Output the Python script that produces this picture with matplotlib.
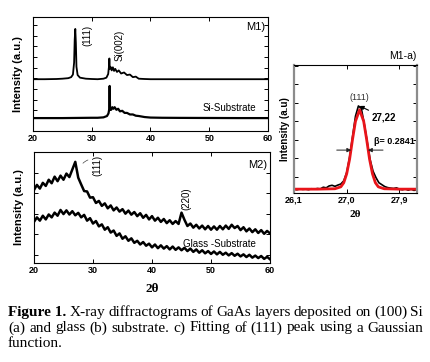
import numpy as np
import matplotlib
matplotlib.use("Agg")
import matplotlib.pyplot as plt

plt.rcParams['font.family'] = ['Liberation Sans', 'DejaVu Sans']

# --- M1 : GaAs on Si (upper) and bare Si substrate (lower) ---
m1_x = [20, 22, 24, 25, 26, 26.5, 26.8, 27.0, 27.1, 27.2, 27.3, 27.4, 27.6, 28.0,
        29, 30, 31, 32, 32.5, 32.8, 32.95, 33.0, 33.08, 33.2, 33.4, 33.6, 33.8,
        34.0, 34.3, 34.6, 35, 35.5, 36, 36.5, 37, 37.5, 38, 39, 40, 45, 50, 55, 60]
m1_y = [5.0, 5.0, 5.02, 5.05, 5.1, 5.2, 5.45, 6.6, 8.8, 9.85, 8.5, 6.2, 5.4, 5.15,
        5.05, 5.02, 5.0, 5.05, 5.15, 5.5, 6.3, 7.0, 6.0, 6.2, 5.85, 6.15, 5.8,
        6.0, 5.7, 5.85, 5.55, 5.65, 5.4, 5.45, 5.2, 5.25, 5.05, 5.02, 5.0, 5.0,
        5.0, 5.0, 5.0]

si_x = [20, 25, 30, 31, 32, 32.6, 32.85, 32.98, 33.05, 33.12, 33.3, 33.5, 33.7,
        33.9, 34.2, 34.5, 34.8, 35.2, 35.6, 36, 36.5, 37, 37.5, 38, 39, 40, 42,
        45, 50, 55, 60]
si_y = [1.25, 1.25, 1.28, 1.28, 1.32, 1.45, 1.7, 2.1, 4.35, 2.05, 2.05, 2.3, 2.15,
        2.3, 2.05, 2.15, 1.9, 1.95, 1.75, 1.75, 1.6, 1.6, 1.48, 1.45, 1.35, 1.3,
        1.28, 1.27, 1.26, 1.25, 1.25]

# --- M2 : GaAs on glass (upper) and glass substrate (lower), step 0.5 deg ---
m2_x = np.arange(20, 60.01, 0.5)
m2_y = [3.55, 3.80, 3.62, 3.90, 3.75, 4.05, 3.88, 4.20, 3.98, 4.25, 4.05, 4.35,
        4.18, 4.55, 4.92, 4.15, 3.82, 3.50, 3.48, 3.18, 3.20, 2.92, 3.02, 2.78,
        2.90, 2.66, 2.80, 2.56, 2.70, 2.50, 2.62, 2.40, 2.55, 2.35, 2.48, 2.28,
        2.42, 2.20, 2.34, 2.12, 2.28, 2.06, 2.20, 2.00, 2.14, 1.94, 2.08, 1.90,
        2.04, 1.90, 2.45, 2.10, 1.80, 1.92, 1.72, 1.86, 1.68, 1.82, 1.64, 1.80,
        1.62, 1.78, 1.62, 1.80, 1.64, 1.82, 1.66, 1.86, 1.70, 1.80, 1.60, 1.74,
        1.54, 1.68, 1.50, 1.64, 1.46, 1.60, 1.42, 1.56, 1.44]
glass_y = [2.00, 2.22, 2.06, 2.30, 2.12, 2.36, 2.22, 2.45, 2.30, 2.58, 2.38, 2.56,
           2.36, 2.52, 2.32, 2.44, 2.22, 2.34, 2.06, 2.18, 1.92, 2.04, 1.78, 1.88,
           1.62, 1.74, 1.48, 1.58, 1.32, 1.44, 1.18, 1.30, 1.08, 1.20, 0.98, 1.08,
           0.90, 1.02, 0.84, 0.94, 0.76, 0.90, 0.72, 0.86, 0.70, 0.82, 0.66, 0.80,
           0.64, 0.76, 0.62, 0.74, 0.58, 0.70, 0.54, 0.66, 0.50, 0.62, 0.47, 0.58,
           0.44, 0.56, 0.42, 0.54, 0.40, 0.50, 0.37, 0.48, 0.35, 0.45, 0.32, 0.42,
           0.29, 0.40, 0.26, 0.36, 0.24, 0.34, 0.20, 0.30, 0.18]

# --- M1-a : zoom on the (111) peak, measured data and Gaussian fit ---
peak_x = [26.10, 26.15, 26.20, 26.25, 26.30, 26.35, 26.40, 26.45, 26.50, 26.55,
          26.60, 26.65, 26.70, 26.75, 26.80, 26.85, 26.90, 26.95, 27.00, 27.05,
          27.10, 27.15, 27.20, 27.25, 27.30, 27.35, 27.40, 27.45, 27.50, 27.55,
          27.60, 27.65, 27.70, 27.75, 27.80, 27.85, 27.90, 27.95, 28.00, 28.05,
          28.10, 28.15, 28.20]
peak_y = [0.030, 0.025, 0.032, 0.028, 0.030, 0.026, 0.033, 0.030, 0.035, 0.032,
          0.045, 0.040, 0.055, 0.060, 0.052, 0.062, 0.070, 0.095, 0.160, 0.280,
          0.440, 0.600, 0.680, 0.660, 0.540, 0.400, 0.260, 0.170, 0.120, 0.080,
          0.065, 0.050, 0.042, 0.038, 0.035, 0.040, 0.030, 0.025, 0.032, 0.022,
          0.030, 0.020, 0.028]
fit_x = [26.1, 26.5, 26.8, 26.9, 26.95, 27.0, 27.05, 27.1, 27.15, 27.22, 27.29,
         27.34, 27.39, 27.44, 27.49, 27.54, 27.64, 27.9, 28.2]
fit_y = [0.03, 0.03, 0.033, 0.048, 0.08, 0.15, 0.265, 0.42, 0.56, 0.65, 0.56,
         0.42, 0.265, 0.15, 0.08, 0.048, 0.033, 0.03, 0.03]
peak_pos = 27.22
fwhm = 0.2841

caption = [
    ('Figure 1.', 'X-ray diffractograms of GaAs layers deposited on (100) Si'),
    ('', '(a) and glass (b) substrate. c) Fitting of (111) peak using a Gaussian'),
    ('', 'function.'),
]

fig = plt.figure(figsize=(4.3, 3.62), dpi=100)
serif = ['Liberation Serif', 'DejaVu Serif']

tick_kw = dict(direction='in', length=3, width=0.7, top=True, right=True,
               labelsize=6.5, pad=2)

# top left panel
ax1 = fig.add_axes([0.0767, 0.638, 0.5465, 0.315])
ax1.plot(m1_x, m1_y, color='black', lw=1.3)
ax1.plot(si_x, si_y, color='black', lw=1.6)
ax1.set_xlim(20, 60)
ax1.set_ylim(0, 11)
ax1.set_xticks([20, 30, 40, 50, 60])
ax1.set_yticks(np.arange(2, 11, 1.03))
ax1.tick_params(labelleft=False, **tick_kw)
for lab in ax1.get_xticklabels():
    lab.set_fontweight('bold')
ax1.set_ylabel('Intensity (a.u.)', fontsize=8, fontweight='bold', labelpad=7)
ax1.text(29.2, 9.27, '(111)', rotation=90, fontsize=7, ha='center', va='center')
ax1.text(34.8, 8.3, 'Si(002)', rotation=90, fontsize=7, ha='center', va='center')
ax1.text(59.6, 10.0, 'M1)', fontsize=8, ha='right', va='center')
ax1.text(53.5, 2.2, 'Si-Substrate', fontsize=7, ha='center', va='center')

# bottom left panel
ax2 = fig.add_axes([0.079, 0.2735, 0.549, 0.3066])
ax2.plot(m2_x, m2_y, color='black', lw=1.8)
ax2.plot(m2_x, glass_y, color='black', lw=1.8)
ax2.set_xlim(20, 60)
ax2.set_ylim(0, 5.4)
ax2.set_xticks([20, 30, 40, 50, 60])
ax2.set_yticks([0.4, 1.4, 2.4, 3.4, 4.4])
ax2.tick_params(labelleft=False, **tick_kw)
for lab in ax2.get_xticklabels():
    lab.set_fontweight('bold')
ax2.set_ylabel('Intensity (a.u.)', fontsize=8, fontweight='bold', labelpad=7)
ax2.set_xlabel('2θ', fontsize=9.5, fontweight='bold', family=serif, labelpad=6)
ax2.text(30.7, 4.73, '(111)', rotation=90, fontsize=7, ha='center', va='center')
ax2.annotate('', xy=(28.0, 4.75), xytext=(29.6, 5.05),
             arrowprops=dict(arrowstyle='-', lw=0.5, color='#444444',
                             connectionstyle='arc3,rad=0.2'))
ax2.text(45.9, 3.14, '(220)', rotation=90, fontsize=7, ha='center', va='center')
ax2.text(51.4, 0.92, 'Glass -Substrate', fontsize=7, ha='center', va='center')
ax2.text(59.6, 4.78, 'M2)', fontsize=8, ha='right', va='center')

# right panel (M1-a)
ax3 = fig.add_axes([0.6837, 0.4669, 0.286, 0.3536])
ax3.plot(peak_x, peak_y, color='black', lw=1.2)
ax3.plot(fit_x, fit_y, color='#e8141a', lw=2.0)
ax3.set_xlim(26.1, 28.2)
ax3.set_ylim(0, 1)
ax3.set_xticks([26.1, 27.0, 27.9])
ax3.set_xticklabels(['26,1', '27,0', '27,9'], fontweight='bold')
ax3.set_yticks(np.arange(0.125, 1, 0.145))
ax3.tick_params(labelleft=False, **tick_kw)
for side in ('left', 'right'):
    ax3.spines[side].set_color('#8c8c8c')
    ax3.spines[side].set_linewidth(1.6)
ax3.set_ylabel('Intensity (a.u)', fontsize=7, fontweight='bold', labelpad=3)
ax3.set_xlabel('2θ', fontsize=8, fontweight='bold', family=serif, labelpad=4)
ax3.set_title('M1-a)', fontsize=7.5, loc='right', pad=4)
ax3.text(peak_pos, 0.745, '(111)', fontsize=6.5, color='#333333',
         ha='center', va='center')
ax3.annotate('27,22', xy=(peak_pos, 0.68), xytext=(27.42, 0.59),
             fontsize=7, fontweight='bold', va='center',
             arrowprops=dict(arrowstyle='-|>', lw=0.8, color='black',
                             mutation_scale=6, shrinkA=0, shrinkB=0))
half = 0.335
ax3.annotate('', xy=(peak_pos - fwhm / 2, half), xytext=(26.83, half),
             arrowprops=dict(arrowstyle='-|>', lw=0.7, color='#222222',
                             mutation_scale=6, shrinkA=0, shrinkB=0))
ax3.annotate('', xy=(peak_pos + fwhm / 2, half), xytext=(27.62, half),
             arrowprops=dict(arrowstyle='-|>', lw=0.7, color='#222222',
                             mutation_scale=6, shrinkA=0, shrinkB=0))
ax3.text(27.47, 0.406, 'β= 0.2841', fontsize=6.5, fontweight='bold',
         ha='left', va='center')

# caption, justified between x = 8 px and x = 423 px except for last line
cap_kw = dict(family=serif, fontsize=11, va='baseline', ha='left')
x_left, x_right = 8, 423
fig.canvas.draw()
renderer = fig.canvas.get_renderer()
for i, (head, body) in enumerate(caption):
    y = 1 - (316 + 15.5 * i) / 362
    words = []
    if head:
        words.append((head, 'bold'))
    words += [(w, 'normal') for w in body.split()]
    items = [fig.text(0, y, w, fontweight=fw, **cap_kw) for w, fw in words]
    widths = [t.get_window_extent(renderer).width for t in items]
    last = i == len(caption) - 1
    gap = 3.0 if last else (x_right - x_left - sum(widths)) / (len(items) - 1)
    x = x_left
    for t, w in zip(items, widths):
        t.set_x(x / 430)
        x += w + gap

fig.savefig('out.png', dpi=100)
